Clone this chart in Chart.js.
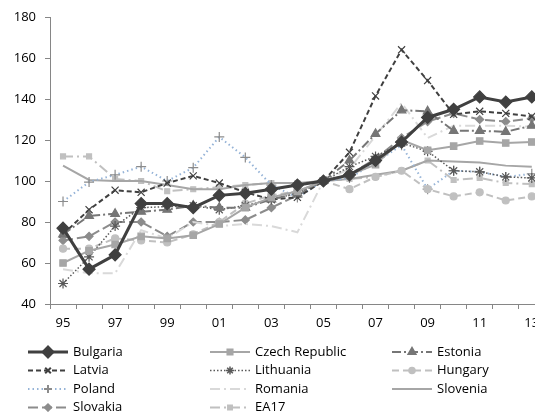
<!DOCTYPE html>
<html>
<head>
<meta charset="utf-8">
<script src="https://cdn.jsdelivr.net/npm/chart.js@4.4.1/dist/chart.umd.min.js"></script>
<style>
  html, body { margin: 0; padding: 0; background: #fff; overflow: hidden; }
  #wrap { position: absolute; left: 0; top: 0; width: 552px; height: 412px; }
</style>
</head>
<body>
<div id="wrap"><canvas id="chart"></canvas></div>
<script>
// ================= DATA (index, 2005 = 100) =================
const years = ["95","96","97","98","99","00","01","02","03","04","05","06","07","08","09","10","11","12","13"];
const yTicks = [40, 60, 80, 100, 120, 140, 160, 180];

const bulgaria  = [77, 57, 64, 89, 89, 87, 93, 94, 96, 98, 100, 103, 110, 119, 131, 135, 141, 138.5, 141];
const czech     = [60, 66, 69, 73, 72, 73.5, 79, 87, 92, 95, 100, 103, 108, 120, 115, 117, 119.5, 118.5, 119];
const estonia   = [74, 83, 84, 85, 86, 88, 87, 87, 91, 94, 100, 110, 123, 134.5, 134, 124.5, 124.5, 124, 127];
const latvia    = [74, 86, 95.5, 94.5, 99, 102.5, 99, 94.5, 91, 92, 100, 114, 141.5, 164, 149, 132.5, 134, 133, 131.5];
const lithuania = [50, 63, 78, 87, 87.5, 88, 86, 88, 91, 94, 100, 107, 112, 118.5, 114.5, 105, 104.5, 102, 101.5];
const hungary   = [67, 67, 72, 71, 70, 74, 80, 89, 93, 95, 100, 96, 102, 105, 96, 92.5, 94.5, 90.5, 92.5];
const poland    = [90, 99.5, 103, 107, 100, 106.5, 121.5, 111.5, 98, 92, 100, 101.5, 109, 117.5, 96, 105, 104.5, 102, 103.5];
const romania   = [57, 55, 55, 76, 72, 80, 78, 79, 78, 75, 100, 106, 122, 138, 121, 127, 127, 127, 126.5];
const slovenia  = [107.5, 100.5, 100, 100, 98, 96, 96, 98, 99, 99, 100, 101, 103, 105, 110, 109.5, 109, 107.5, 107];
const slovakia  = [71, 73, 80, 80, 73, 80, 80, 81, 87, 93, 100, 103, 111, 121, 129, 133, 130, 129, 130.5];
const ea17      = [112, 112, 101, 100, 95, 96, 97, 98, 99, 99, 100, 101, 102, 105, 110, 100.5, 101.5, 99, 98.5];

// ================= STYLE =================
const FONT = { family: "'Open Sans', 'Liberation Sans', sans-serif", size: 13 };
const AXIS = "#868686";

function serie(label, data, color, width, dash, style, radius, pointColor) {
  return {
    label, data,
    borderColor: color,
    borderWidth: width,
    borderDash: dash,
    pointStyle: style || "circle",
    pointRadius: style ? radius : 0,
    pointBackgroundColor: pointColor || color,
    pointBorderColor: pointColor || color,
    pointBorderWidth: 1.2,
    tension: 0,
    fill: false
  };
}

const datasets = [
  serie("Bulgaria", bulgaria, "#404040", 3, [], "rectRot", 6),
  serie("Czech Republic", czech, "#a6a6a6", 2, [], "rect", 4.5),
  serie("Estonia", estonia, "#767676", 2, [9, 3, 2, 3], "triangle", 5),
  serie("Latvia", latvia, "#404040", 2, [5, 3], "crossRot", 5),
  serie("Lithuania", lithuania, "#595959", 1.5, [1.5, 2], "star", 5),
  serie("Hungary", hungary, "#c0c0c0", 2, [7, 4], "circle", 3.5),
  serie("Poland", poland, "#95b3d7", 2, [1.5, 3], "cross", 5, "#8c8c8c"),
  serie("Romania", romania, "#d9d9d9", 2, [10, 4, 2, 4], null, 0),
  serie("Slovenia", slovenia, "#a6a6a6", 2, [], null, 0),
  serie("Slovakia", slovakia, "#8c8c8c", 2, [10, 4], "rectRot", 4),
  serie("EA17", ea17, "#c0c0c0", 2, [10, 4, 2, 4], "rect", 3.5)
];

// ================= LEGEND (3 columns) =================
const legendCols = [28, 210, 392];
const legendRows = [352, 370.5, 389, 407.5];

const gridLegend = {
  id: "gridLegend",
  afterDraw(chart) {
    const ctx = chart.ctx;
    chart.data.datasets.forEach((ds, i) => {
      const x0 = legendCols[i % 3];
      const y = legendRows[Math.floor(i / 3)];
      ctx.save();
      ctx.strokeStyle = ds.borderColor;
      ctx.lineWidth = ds.borderWidth;
      ctx.setLineDash(ds.borderDash);
      ctx.beginPath();
      ctx.moveTo(x0, y);
      ctx.lineTo(x0 + 40, y);
      ctx.stroke();
      ctx.setLineDash([]);
      if (ds.pointRadius > 0) {
        ctx.fillStyle = ds.pointBackgroundColor;
        ctx.strokeStyle = ds.pointBorderColor;
        Chart.helpers.drawPoint(ctx, {
          pointStyle: ds.pointStyle, rotation: 0,
          radius: ds.pointRadius * 0.8, borderWidth: ds.pointBorderWidth
        }, x0 + 20, y);
      }
      ctx.fillStyle = "#000";
      ctx.font = FONT.size + "px " + FONT.family;
      ctx.textBaseline = "middle";
      ctx.fillText(ds.label, x0 + 45, y);
      ctx.restore();
    });
  }
};

// ================= CHART =================
new Chart(document.getElementById("chart"), {
  type: "line",
  data: { labels: years, datasets },
  options: {
    responsive: true,
    maintainAspectRatio: false,
    animation: false,
    devicePixelRatio: 1,
    layout: { padding: { left: 0, right: 1, top: 17, bottom: 78 } },
    plugins: { legend: { display: false }, tooltip: { enabled: false } },
    scales: {
      x: {
        type: "category",
        offset: true,
        grid: { offset: true, drawOnChartArea: false, tickLength: 5, color: AXIS },
        border: { color: AXIS },
        ticks: {
          autoSkip: false, maxRotation: 0, padding: 6, color: "#000", font: FONT,
          callback: (v, i) => (i % 2 === 0 ? years[i] : "")
        },
        afterFit: s => { s.height = 30; }
      },
      y: {
        min: yTicks[0],
        max: yTicks[yTicks.length - 1],
        grid: { drawOnChartArea: false, tickLength: 5, color: AXIS },
        border: { color: AXIS },
        ticks: { stepSize: 20, padding: 9, color: "#000", font: FONT },
        afterBuildTicks: s => { s.ticks = yTicks.map(v => ({ value: v })); },
        afterFit: s => { s.width = 50; }
      }
    }
  },
  plugins: [gridLegend]
});
</script>
</body>
</html>
